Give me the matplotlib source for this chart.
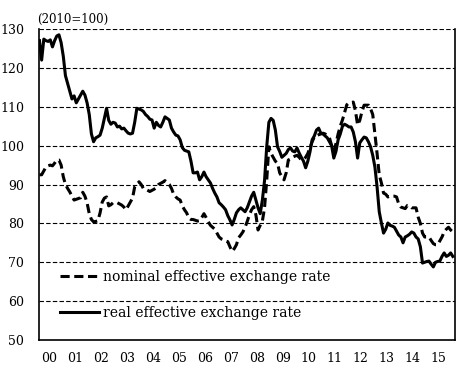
import matplotlib
matplotlib.use("Agg")
import matplotlib.pyplot as plt
import numpy as np

# monthly values, Jan 2000 - Dec 2015 (2010=100)
nominal = [
    92.5, 92.5, 93.5, 94.5, 94.8, 95.0, 94.8, 95.5, 96.3, 96.3, 95.0, 92.0,   # 2000
    90.0, 89.0, 88.1, 87.0, 86.0, 86.2, 86.4, 86.6, 88.0, 87.0, 85.3, 82.5,   # 2001
    81.0, 80.4, 80.5, 80.7, 82.7, 85.5, 86.5, 86.8, 84.5, 84.8, 85.3, 85.3,   # 2002
    85.3, 85.0, 84.7, 84.2, 83.5, 84.5, 85.5, 86.5, 89.4, 90.0, 90.7, 90.0,   # 2003
    89.0, 88.8, 88.5, 88.2, 88.5, 88.8, 89.2, 90.0, 90.3, 90.6, 91.0, 90.5,   # 2004
    90.0, 89.0, 87.5, 86.8, 86.3, 86.0, 84.5, 83.5, 82.7, 81.4, 81.0, 81.0,   # 2005
    80.8, 80.6, 80.7, 81.5, 82.5, 81.5, 80.4, 79.5, 79.0, 78.5, 77.5, 76.5,   # 2006
    76.0, 75.8, 75.5, 75.3, 74.0, 72.8, 73.5, 74.5, 76.3, 77.0, 77.8, 79.0,   # 2007
    80.5, 82.2, 83.5, 84.3, 82.2, 78.3, 79.5, 80.6, 84.0, 91.0, 99.7, 98.0,   # 2008
    97.0, 96.0, 95.5, 93.0, 92.0, 91.2, 93.0, 96.3, 96.6, 97.0, 97.3, 97.5,   # 2009
    97.0, 96.3, 96.5, 97.0, 98.0, 99.5, 101.0, 102.2, 102.5, 102.8, 103.0, 103.2,  # 2010
    103.0, 102.5, 102.0, 100.0, 98.5, 100.5, 103.0, 105.0, 106.6, 108.5, 110.5, 111.0,  # 2011
    111.1, 111.2, 109.0, 105.3, 106.5, 108.7, 110.4, 110.4, 110.4, 109.5, 108.0, 103.0,  # 2012
    98.0, 92.5, 90.4, 87.8, 87.5, 86.8, 87.0, 87.0, 87.0, 86.8, 85.0, 84.2,   # 2013
    84.0, 83.8, 84.6, 84.5, 84.0, 84.0, 84.0, 81.6, 80.0, 77.5, 76.5, 76.5,   # 2014
    76.5, 75.6, 74.8, 74.5, 74.5, 75.5, 76.5, 77.8, 78.5, 79.0, 78.3, 77.8,   # 2015
]
real = [
    127.0, 122.0, 127.4, 127.0, 126.8, 127.2, 125.4, 127.0, 128.2, 128.5, 126.5, 123.0,  # 2000
    118.0, 116.0, 114.0, 112.0, 112.8, 111.0, 112.0, 113.0, 114.0, 113.0, 111.0, 108.0,  # 2001
    103.0, 101.0, 102.0, 102.3, 102.7, 104.5, 107.0, 109.6, 106.5, 105.5, 106.0, 105.8,  # 2002
    104.8, 105.0, 104.3, 104.5, 103.8, 103.2, 103.0, 103.2, 106.0, 109.6, 109.4, 109.2,  # 2003
    108.8, 108.0, 107.5, 106.8, 106.6, 104.5, 106.0, 105.2, 104.8, 106.0, 107.4, 107.0,  # 2004
    106.6, 104.5, 103.5, 102.7, 102.5, 101.5, 99.5, 98.8, 98.6, 98.4, 96.0, 93.0,   # 2005
    93.0, 93.2, 91.2, 92.0, 93.2, 92.0, 91.2, 90.4, 89.0, 87.8, 86.8, 85.3,   # 2006
    84.8, 84.2, 83.5, 82.0, 80.9, 79.6, 81.0, 82.7, 83.5, 84.0, 83.5, 83.0,   # 2007
    84.0, 85.5, 87.0, 88.0, 86.0, 84.0, 82.5, 86.0, 91.0, 99.7, 106.0, 107.0,  # 2008
    106.5, 104.0, 99.7, 98.5, 97.0, 97.5, 98.0, 99.0, 99.4, 98.6, 98.4, 99.4,  # 2009
    98.1, 97.0, 96.0, 94.3, 96.0, 98.4, 101.5, 102.5, 104.0, 104.5, 103.2, 103.0,  # 2010
    102.5, 102.0, 101.0, 100.0, 96.8, 98.5, 101.5, 103.0, 105.0, 105.5, 105.2, 104.8,  # 2011
    104.8, 103.5, 101.0, 96.8, 100.7, 101.5, 102.2, 102.0, 101.0, 99.7, 97.5, 94.5,  # 2012
    89.4, 83.0, 80.1, 77.5, 78.5, 80.1, 79.5, 79.3, 79.0, 78.0, 77.0, 76.5,   # 2013
    75.0, 76.5, 76.8, 77.2, 77.8, 77.5, 76.5, 76.0, 74.0, 69.8, 70.0, 70.2,   # 2014
    70.3, 69.5, 68.8, 70.0, 70.2, 70.3, 71.5, 72.4, 71.5, 71.8, 72.4, 71.5,   # 2015
]
year_labels = ["00", "01", "02", "03", "04", "05", "06", "07",
               "08", "09", "10", "11", "12", "13", "14", "15"]

plt.rcParams['font.family'] = ['DejaVu Serif']

fig = plt.figure(figsize=(4.58, 3.66), dpi=100)
ax = fig.add_axes([0.0862, 0.071, 0.9072, 0.8498])

months = np.arange(len(real))
ax.plot(months, nominal, color='black', lw=2.2, linestyle=(0, (3, 1.5)),
        label='nominal effective exchange rate', zorder=3)
ax.plot(months, real, color='black', lw=2.2,
        label='real effective exchange rate', zorder=3)

ax.set_xlim(0, 192)
ax.set_ylim(50, 130)
ax.set_yticks(range(50, 131, 10))
ax.set_xticks(np.arange(len(year_labels)) * 12 + 4.5)
ax.set_xticklabels(year_labels)
ax.tick_params(axis='both', length=0, labelsize=9)
ax.tick_params(axis='y', pad=11)
ax.tick_params(axis='x', pad=8.5)

for v in range(60, 131, 10):
    ax.axhline(v, color='black', lw=0.8, linestyle=(0, (4, 2)), zorder=1)

ax.spines['top'].set_visible(False)
for s in ['left', 'right', 'bottom']:
    ax.spines[s].set_linewidth(1.2)

ax.text(-0.005, 1.01, '(2010=100)', transform=ax.transAxes, fontsize=8.5,
        ha='left', va='bottom')

ax.legend(loc='lower left', bbox_to_anchor=(0.02, 0.025), frameon=False,
          fontsize=10, handlelength=2.8, handletextpad=0.3, labelspacing=1.55)

fig.savefig('out.png', dpi=100)
